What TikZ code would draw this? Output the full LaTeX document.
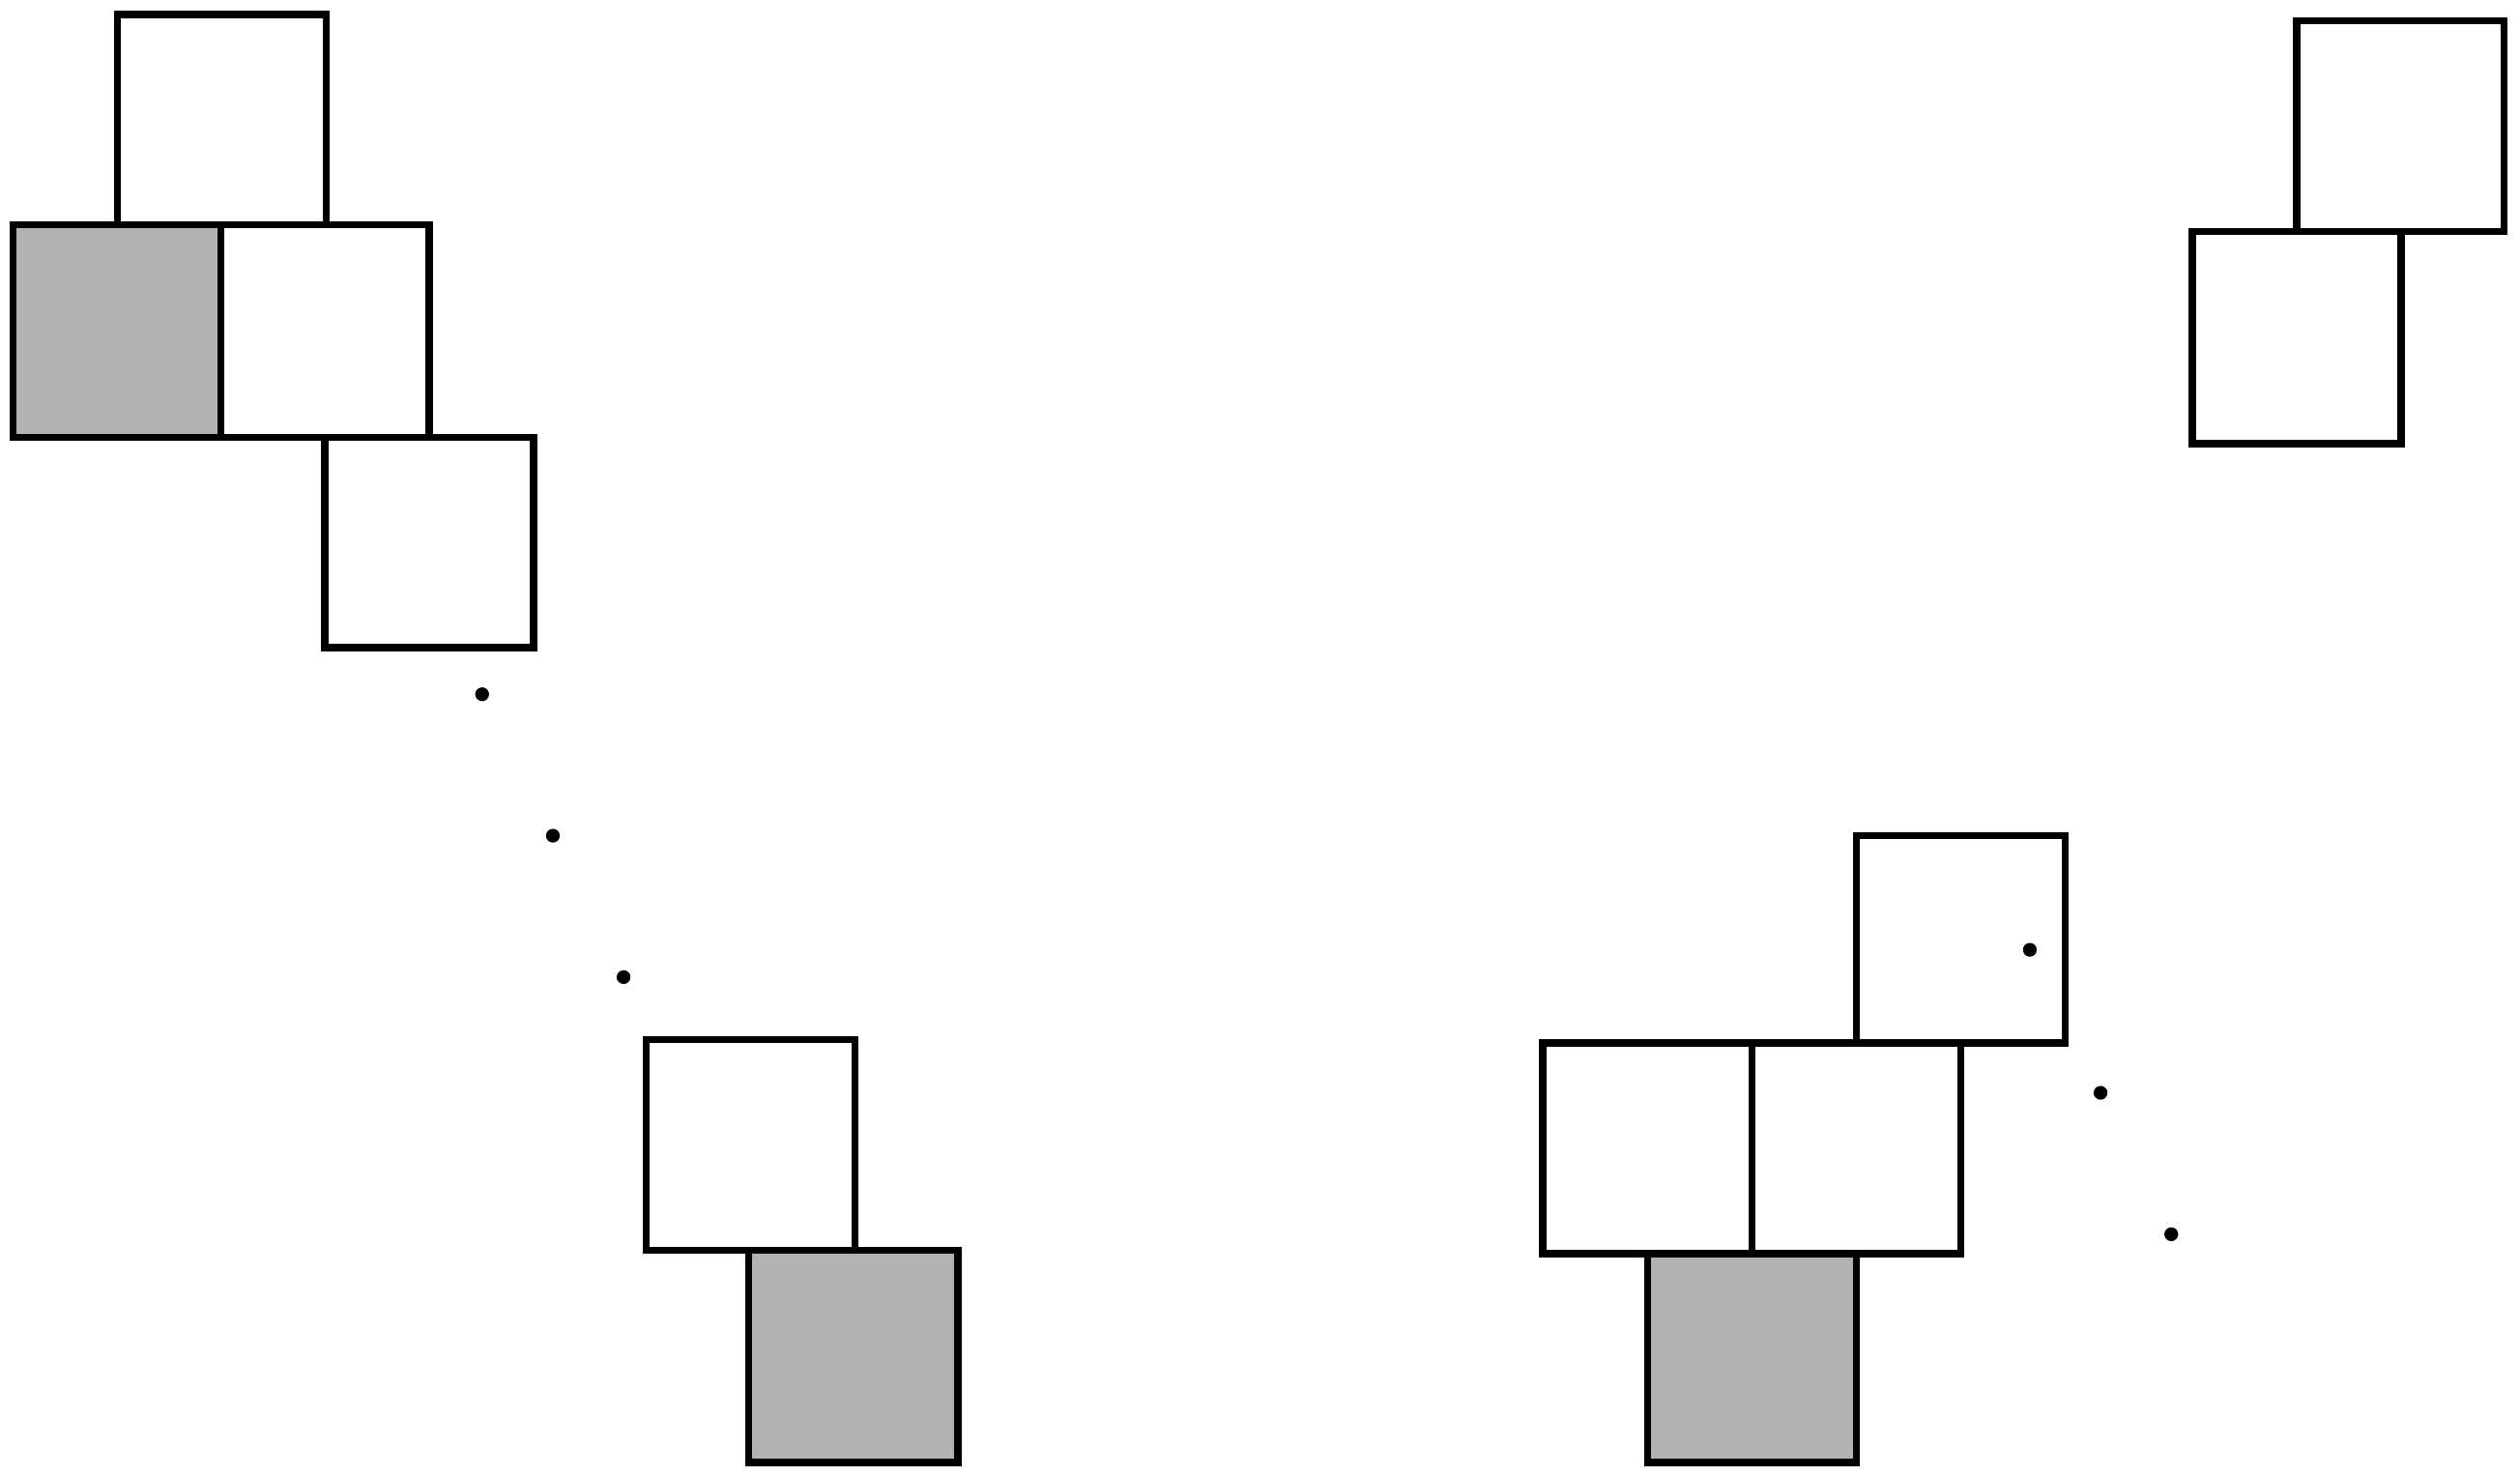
\documentclass[tikz,border=0pt]{standalone}
\begin{document}
\begin{tikzpicture}[x=0.016626cm, y=-0.016626cm,
  cell/.style={draw=black, line width=2.1pt, fill=white, line join=miter},
  shaded/.style={cell, fill=black!30},
  dotmark/.style={fill=black, draw=none}]
\useasboundingbox (0,0) rectangle (1568,918);
% left group
\draw[cell]   (73,9)      rectangle (203,140);
\draw[shaded] (8,140)     rectangle (137.5,272);
\draw[cell]   (137.5,140) rectangle (267,272);
\draw[cell]   (202,272)   rectangle (332,403);
\fill[dotmark] (300,432) circle (4.3);
\fill[dotmark] (344,520) circle (4.3);
\fill[dotmark] (388,608) circle (4.3);
\draw[cell]   (402,647)   rectangle (532,778);
\draw[shaded] (466,778)   rectangle (596,910);
% right group
\draw[cell]   (1429,13)   rectangle (1558,144);
\draw[cell]   (1364,144)  rectangle (1494,276);
\draw[cell]   (1155,520)  rectangle (1285,649);
\draw[cell]   (960,649)   rectangle (1090,780);
\draw[cell]   (1090,649)  rectangle (1220,780);
\draw[shaded] (1025,780)  rectangle (1155,910);
\fill[dotmark] (1263,591) circle (4.3);
\fill[dotmark] (1307,680) circle (4.3);
\fill[dotmark] (1351,768) circle (4.3);
\end{tikzpicture}
\end{document}
